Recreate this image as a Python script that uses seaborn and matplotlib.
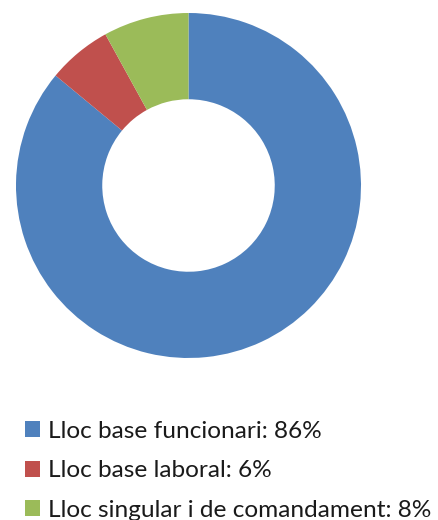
import matplotlib.pyplot as plt
import seaborn as sns
import numpy as np

labels = ['Lloc base funcionari', 'Lloc base laboral', 'Lloc singular i de comandament']
shares = [86, 6, 8]
colors = ['#4F81BD', '#C0504D', '#9BBB59']

sns.set_theme(style='white')
plt.rcParams['font.family'] = ['Lato', 'DejaVu Sans']

W, H = 439, 520
fig = plt.figure(figsize=(W / 100, H / 100), dpi=100)

# donut: center ~ (188.5, 185.5) px, outer radius ~172.5 px
cx, cy, r = 188.5, 185.5, 172.5
ax = fig.add_axes([(cx - r) / W, (H - cy - r) / H, 2 * r / W, 2 * r / H])
wedges, _ = ax.pie(shares, colors=colors, startangle=90, counterclock=False,
                   wedgeprops=dict(width=0.5, edgecolor='none'))
ax.set_xlim(-1, 1)
ax.set_ylim(-1, 1)
ax.set_aspect('equal')
ax.axis('off')

legend_labels = [f'{l}: {v}%' for l, v in zip(labels, shares)]
leg = fig.legend(wedges, legend_labels, loc='upper left',
                 bbox_to_anchor=(25 / W, (H - 421) / H),
                 frameon=False, fontsize=17.6, handlelength=0.62, handleheight=0.62,
                 handletextpad=0.32, labelspacing=0.75, borderpad=0, borderaxespad=0)
for t in leg.get_texts():
    t.set_color('#1a1a1a')

fig.savefig('out.png', dpi=100)
